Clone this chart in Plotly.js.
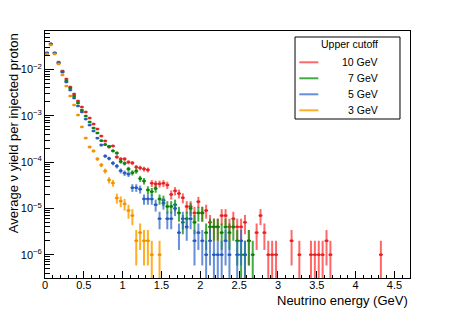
<!DOCTYPE html>
<html><head><meta charset="utf-8">
<script src="https://cdn.plot.ly/plotly-3.0.1.min.js"></script>
<style>html,body{margin:0;padding:0;background:#fff;}#chart{width:457px;height:311px;}</style>
</head><body><div id="chart"></div>
<script>
// histogram binning (GeV)
const binWidth = 0.05;
// weight of a single event (yield per injected proton)
const eventWeight = 1e-6;

const seriesNames = ['10 GeV', '7 GeV', '5 GeV', '3 GeV'];
const legendHeader = 'Upper cutoff';

// average neutrino yield per bin, bins start at 0 GeV
const yield10 = [
  0.0227, 0.0356, 0.0227, 0.0145, 0.00928, 0.00624, 0.00419, 0.00296, 0.00209, 0.00155,
  0.00121, 8.96e-4, 6.65e-4, 5.19e-4, 3.66e-4, 2.86e-4, 2.12e-4, 2.23e-4, 1.29e-4, 1.17e-4,
  1.17e-4, 1.0e-4, 9.6e-5, 7.8e-5, 7.5e-5, 7.1e-5, 6.8e-5, 3.5e-5, 3.4e-5, 3.4e-5,
  3.5e-5, 3.2e-5, 2.0e-5, 2.4e-5, 2.1e-5, 1.7e-5, 1.1e-5, 1.1e-5, 8e-6, 1.4e-5,
  8e-6, 9e-6, 5e-6, 4e-6, 4e-6, 7e-6, 7e-6, 4e-6, 6e-6, 4e-6,
  4e-6, 5e-6, 2e-6, null, 3e-6, 7e-6, 3e-6, 1e-6, 1e-6, 1e-6,
  null, null, null, 2e-6, null, 1e-6, null, null, 1e-6, 1e-6,
  1e-6, 1e-6, 2e-6, 1e-6, null, null, null, null, null, null,
  null, null, null, null, null, null, 1e-6
];
const yield7 = [
  0.0227, 0.0356, 0.0227, 0.0138, 0.00883, 0.00565, 0.00398, 0.00268, 0.00189, 0.00133,
  9.9e-4, 7.35e-4, 5.45e-4, 4.25e-4, 2.9e-4, 2.4e-4, 2.2e-4, 1.75e-4, 1.57e-4, 1.03e-4,
  9.4e-5, 7.1e-5, 5.9e-5, 6.4e-5, 4.4e-5, 3.9e-5, 2.5e-5, 2.3e-5, 2.7e-5, 1.6e-5,
  1.5e-5, 1.1e-5, 1.1e-5, 1.2e-5, 8e-6, 5e-6, 6e-6, 1e-5, 5e-6, 8e-6,
  8e-6, 3e-6, 4e-6, 4e-6, 4e-6, 3e-6, 4e-6, 3e-6, 4e-6, 2e-6,
  1e-6, 1e-6, 2e-6, 1e-6
];
const yield5 = [
  0.0227, 0.0356, 0.0227, 0.0138, 0.00883, 0.00537, 0.0036, 0.00242, 0.00163, 0.00121,
  8.5e-4, 6.3e-4, 4.7e-4, 3.3e-4, 2.34e-4, 1.35e-4, 1.2e-4, 9.5e-5, 8.2e-5, 6.5e-5,
  5.8e-5, 5.5e-5, 2.8e-5, 2.8e-5, 2.6e-5, 1.6e-5, 1.6e-5, 1.6e-5, 1.2e-5, 6e-6,
  1.3e-5, 6e-6, 6e-6, 1e-5, 3e-6, 6e-6, 4e-6, 6e-6, 2e-6, 3e-6,
  2e-6, 1e-6, 2e-6, 1e-6, 1e-6, 1e-6, 2e-6, 1e-6, null, 1e-6,
  2e-6, 1e-6
];
const yield3 = [
  0.0216, 0.0338, 0.0216, 0.01315, 0.0076, 0.0044, 0.00268, 0.00171, 0.00104, 5.75e-4,
  3.31e-4, 2.12e-4, 1.74e-4, 1.17e-4, 8.65e-5, 6.43e-5, 4.1e-5, 3.54e-5, 1.68e-5, 1.44e-5,
  1.25e-5, 9e-6, 7e-6, 2e-6, 3e-6, 2e-6, 2e-6, 1e-6, null, 1e-6
];

const xTickVals = [0, 0.5, 1, 1.5, 2, 2.5, 3, 3.5, 4, 4.5];
const xTickText = ['0', '0.5', '1', '1.5', '2', '2.5', '3', '3.5', '4', '4.5'];
const yTickVals = [1e-6, 1e-5, 1e-4, 1e-3, 1e-2];
const yTickText = ['10<sup>−6</sup>', '10<sup>−5</sup>', '10<sup>−4</sup>', '10<sup>−3</sup>', '10<sup>−2</sup>'];

const lineColors = ['rgba(255,40,40,0.7)', 'rgba(20,150,20,0.8)', 'rgba(50,105,205,0.75)', 'rgba(255,160,0,0.85)'];
const darkColors = ['rgb(225,35,35)', 'rgb(10,130,10)', 'rgb(40,90,190)', 'rgb(240,145,0)'];

function makeTrace(vals, idx) {
  const x = [], y = [], e = [];
  vals.forEach((v, i) => {
    x.push(binWidth * (i + 0.5));
    y.push(v);
    e.push(v == null ? null : Math.sqrt(v * eventWeight));
  });
  return {
    type: 'scatter', mode: 'markers', x: x, y: y, name: seriesNames[idx], showlegend: false,
    hoverinfo: 'skip',
    marker: {symbol: 'square', size: 2.5, color: darkColors[idx], line: {width: 0}},
    error_y: {type: 'data', array: e, visible: true, color: lineColors[idx], thickness: 2, width: 0},
    error_x: {type: 'constant', value: binWidth / 2, visible: true, color: darkColors[idx], thickness: 1.5, width: 0}
  };
}

const data = [yield10, yield7, yield5, yield3].map(makeTrace);

// legend (drawn in paper coordinates)
const legX0 = 0.685, legX1 = 0.9726, legY0 = 0.6437, legY1 = 0.9757;
const entryY = [0.8733, 0.8085, 0.7437, 0.6789];
const shapes = [{type: 'rect', xref: 'paper', yref: 'paper', x0: legX0, x1: legX1, y0: legY0, y1: legY1,
  line: {color: 'black', width: 1}, fillcolor: 'white'}];
const annotations = [
  {xref: 'paper', yref: 'paper', x: 0.8356, y: 0.9486, text: legendHeader, showarrow: false,
   xanchor: 'center', yanchor: 'middle', font: {size: 10.5}},
  {xref: 'paper', yref: 'paper', x: 1, y: -0.091, text: 'Neutrino energy (GeV)', showarrow: false,
   xanchor: 'right', yanchor: 'middle', font: {size: 13}},
  {xref: 'paper', yref: 'paper', x: -0.087, y: 1, text: 'Average ν yield per injected proton', showarrow: false,
   textangle: -90, xanchor: 'center', yanchor: 'top', font: {size: 13}}
];
seriesNames.forEach((n, i) => {
  shapes.push({type: 'line', xref: 'paper', yref: 'paper', x0: 0.6967, x1: 0.7488, y0: entryY[i], y1: entryY[i],
    line: {color: lineColors[i], width: 2}});
  annotations.push({xref: 'paper', yref: 'paper', x: 0.9178, y: entryY[i], text: n, showarrow: false,
    xanchor: 'right', yanchor: 'middle', font: {size: 10.5}});
});

const layout = {
  width: 457, height: 311,
  margin: {l: 45, r: 47, t: 31, b: 33},
  paper_bgcolor: 'white', plot_bgcolor: 'white', showlegend: false,
  font: {family: 'Liberation Sans, Arial, sans-serif', size: 11, color: 'black'},
  xaxis: {
    range: [0, 4.7], tickmode: 'array', tickvals: xTickVals, ticktext: xTickText,
    ticks: 'inside', ticklen: 7, tickwidth: 1, tickcolor: 'black', ticklabelstandoff: -3,
    showline: true, linecolor: 'black', linewidth: 1, mirror: true,
    showgrid: false, zeroline: false, tickfont: {size: 11},
    minor: {ticks: 'inside', ticklen: 3.5, tick0: 0, dtick: 0.1, tickcolor: 'black', showgrid: false}
  },
  yaxis: {
    type: 'log', range: [-6.503, -1.168], tickmode: 'array', tickvals: yTickVals, ticktext: yTickText,
    ticks: 'inside', ticklen: 9, tickwidth: 1, tickcolor: 'black',
    showline: true, linecolor: 'black', linewidth: 1, mirror: true,
    showgrid: false, zeroline: false, tickfont: {size: 11},
    minor: {ticks: 'inside', ticklen: 5, dtick: 'D1', tickcolor: 'black', showgrid: false}
  },
  shapes: shapes,
  annotations: annotations
};

Plotly.newPlot('chart', data, layout, {displayModeBar: false, staticPlot: true});
</script>
</body></html>
